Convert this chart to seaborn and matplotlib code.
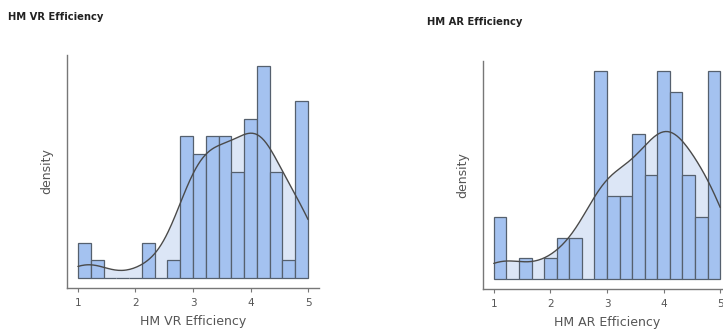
import numpy as np
import pandas as pd
import matplotlib
matplotlib.use("Agg")
import matplotlib.pyplot as plt
import seaborn as sns

sns.set_theme(style="white")
plt.rcParams['font.family'] = ['DejaVu Sans']

# bin layout: 18 equal bins between 1 and 5
bin_edges = np.linspace(1, 5, 19)
bin_centers = (bin_edges[:-1] + bin_edges[1:]) / 2

# counts
vr_counts = [2, 1, 0, 0, 0, 2, 0, 1, 8, 7, 8, 8, 6, 9, 12, 6, 1, 10]
ar_counts = [3, 0, 1, 0, 1, 2, 2, 0, 10, 4, 4, 7, 5, 10, 9, 5, 3, 10]

panels = [
    ("HM VR Efficiency", vr_counts),
    ("HM AR Efficiency", ar_counts),
]

BAR = "#a4c2f0"
LIGHT = "#dce6f6"
EDGE = "#55606e"
LINE = "#4a4a4a"
AXIS = "#777777"
TXT = "#555555"
BW = 0.62

W, H = 723, 333
fig = plt.figure(figsize=(W / 100, H / 100), dpi=100)

# axes boxes in pixels: left, right, top, bottom
boxes = [(67, 319, 55, 288), (483, 731, 61, 289)]
title_pos = [(8, 17), (427, 22)]


def draw(ax, name, counts):
    df = pd.DataFrame({"x": bin_centers, "w": np.array(counts, dtype=float)})
    kde_kws = dict(data=df, x="x", weights="w", cut=3, clip=(1, 5), bw_adjust=BW, ax=ax)
    sns.kdeplot(fill=True, color=LIGHT, alpha=1, linewidth=0, **kde_kws)
    sns.histplot(data=df, x="x", weights="w", bins=list(bin_edges), stat="density",
                 color=BAR, alpha=1, edgecolor=EDGE, linewidth=0.9, ax=ax)
    sns.kdeplot(color=LINE, linewidth=1.0, **kde_kws)
    m = df["w"].max() / (df["w"].sum() * (bin_edges[1] - bin_edges[0]))
    ax.set_ylim(-0.047 * m, 1.05 * m)
    ax.set_xlim(0.81, 5.19)
    ax.set_xticks([1, 2, 3, 4, 5])
    ax.set_yticks([])
    ax.tick_params(axis="x", length=3, width=0.8, color=AXIS, labelsize=7.5,
                   labelcolor=TXT, pad=4, bottom=True)
    for s in ("top", "right"):
        ax.spines[s].set_visible(False)
    for s in ("left", "bottom"):
        ax.spines[s].set_color(AXIS)
        ax.spines[s].set_linewidth(1.0)
    ax.set_xlabel(name, fontsize=9, color=TXT, labelpad=5)
    ax.set_ylabel("density", fontsize=9, color=TXT, labelpad=10)
    ax.patch.set_alpha(0)


for (l, r, t, b), (name, counts), (tx, ty) in zip(boxes, panels, title_pos):
    ax = fig.add_axes([l / W, (H - b) / H, (r - l) / W, (b - t) / H])
    draw(ax, name, counts)
    fig.text(tx / W, 1 - ty / H, name, fontsize=7.2, fontweight="bold",
             color="#222222", ha="left", va="center")

fig.savefig("out.png", dpi=100)
